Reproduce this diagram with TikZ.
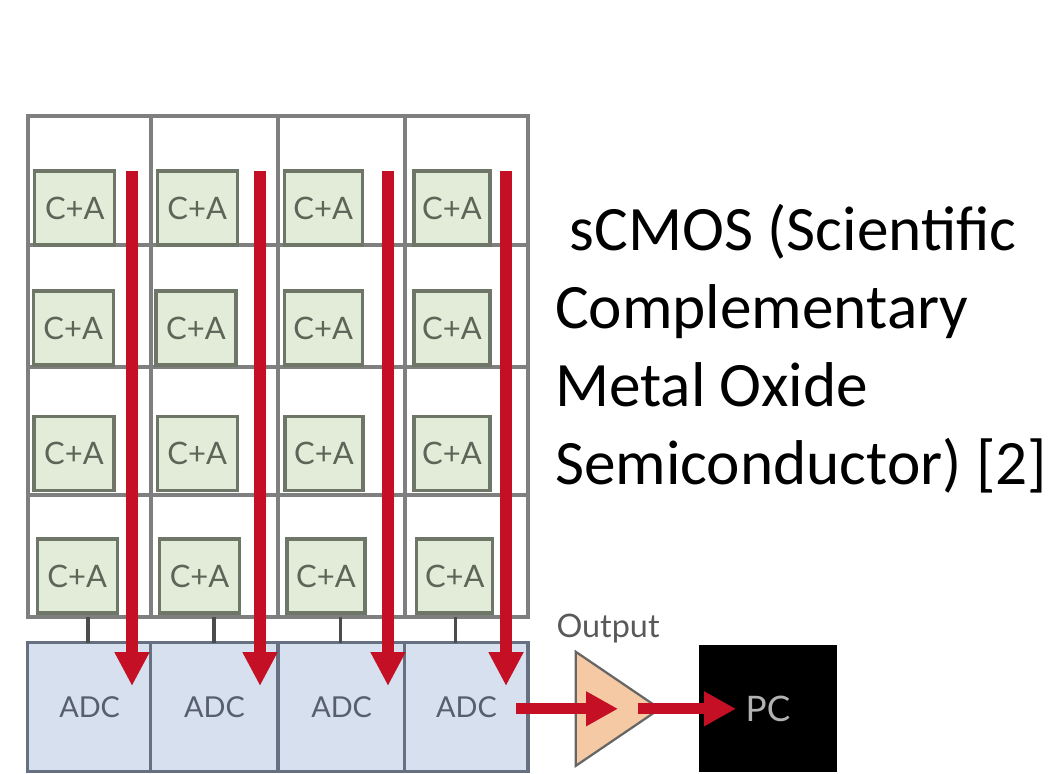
\documentclass[tikz,border=0pt]{standalone}
\usepackage{fontspec}
\setmainfont{Lato}
\newfontfamily\titlefont{Carlito}
\usetikzlibrary{shapes.geometric,arrows.meta}
\definecolor{gridgray}{HTML}{7F7F7F}
\definecolor{boxgreen}{HTML}{E2ECD8}
\definecolor{boxedge}{HTML}{6E7668}
\definecolor{adcblue}{HTML}{D6E0EF}
\definecolor{adcedge}{HTML}{667080}
\definecolor{flowred}{HTML}{C50F24}
\definecolor{ampfill}{HTML}{F5C9A3}
\tikzset{
    cell/.style={draw=gridgray, line width=2.4pt, inner sep=0pt},
    ca/.style={draw=boxedge, fill=boxgreen, line width=2.2pt, text=boxedge!85!black, minimum width=2cm, minimum height=1.85cm, inner sep=0pt, font=\fontsize{22}{25}\selectfont},
    adc/.style={draw=adcedge, fill=adcblue, line width=2.2pt, text=adcedge!85!black, inner sep=0pt, minimum height=3.22cm, font=\fontsize{20.5}{24}\selectfont},
    stub/.style={draw=black!70, line width=2.4pt},
    flow/.style={draw=flowred, line width=8.5pt, -{Triangle[length=0.85cm,width=0.82cm]}},
    flowh/.style={draw=flowred, line width=8pt, -{Triangle[length=0.8cm,width=0.82cm]}}
}
\begin{document}
\begin{tikzpicture}
    \useasboundingbox (0,0) rectangle (26.275,-19.35);

    % pixel grid
    \node[cell, minimum width=3.08cm, minimum height=3.22cm] (cell11) at (2.24,-4.51) {};
    \node[cell, minimum width=3.18cm, minimum height=3.22cm] (cell12) at (5.36,-4.51) {};
    \node[cell, minimum width=3.18cm, minimum height=3.22cm] (cell13) at (8.54,-4.51) {};
    \node[cell, minimum width=3.08cm, minimum height=3.22cm] (cell14) at (11.66,-4.51) {};
    \node[cell, minimum width=3.08cm, minimum height=3.05cm] (cell21) at (2.24,-7.65) {};
    \node[cell, minimum width=3.18cm, minimum height=3.05cm] (cell22) at (5.36,-7.65) {};
    \node[cell, minimum width=3.18cm, minimum height=3.05cm] (cell23) at (8.54,-7.65) {};
    \node[cell, minimum width=3.08cm, minimum height=3.05cm] (cell24) at (11.66,-7.65) {};
    \node[cell, minimum width=3.08cm, minimum height=3.2cm] (cell31) at (2.24,-10.78) {};
    \node[cell, minimum width=3.18cm, minimum height=3.2cm] (cell32) at (5.36,-10.78) {};
    \node[cell, minimum width=3.18cm, minimum height=3.2cm] (cell33) at (8.54,-10.78) {};
    \node[cell, minimum width=3.08cm, minimum height=3.2cm] (cell34) at (11.66,-10.78) {};
    \node[cell, minimum width=3.08cm, minimum height=3.05cm] (cell41) at (2.24,-13.9) {};
    \node[cell, minimum width=3.18cm, minimum height=3.05cm] (cell42) at (5.36,-13.9) {};
    \node[cell, minimum width=3.18cm, minimum height=3.05cm] (cell43) at (8.54,-13.9) {};
    \node[cell, minimum width=3.08cm, minimum height=3.05cm] (cell44) at (11.66,-13.9) {};

    % C+A boxes
    \node[ca] (ca11) at (1.87,-5.2) {C+A};
    \node[ca] (ca12) at (4.93,-5.2) {C+A};
    \node[ca, minimum width=1.95cm] (ca13) at (8.08,-5.2) {C+A};
    \node[ca, minimum width=1.9cm] (ca14) at (11.3,-5.2) {C+A};
    \node[ca] (ca21) at (1.83,-8.2) {C+A};
    \node[ca] (ca22) at (4.9,-8.2) {C+A};
    \node[ca, minimum width=1.95cm] (ca23) at (8.08,-8.2) {C+A};
    \node[ca, minimum width=1.9cm] (ca24) at (11.3,-8.2) {C+A};
    \node[ca] (ca31) at (1.85,-11.33) {C+A};
    \node[ca] (ca32) at (4.93,-11.33) {C+A};
    \node[ca, minimum width=1.95cm] (ca33) at (8.1,-11.33) {C+A};
    \node[ca, minimum width=1.9cm] (ca34) at (11.3,-11.33) {C+A};
    \node[ca] (ca41) at (1.93,-14.4) {C+A};
    \node[ca] (ca42) at (4.99,-14.4) {C+A};
    \node[ca, minimum width=1.95cm] (ca43) at (8.15,-14.4) {C+A};
    \node[ca, minimum width=1.9cm] (ca44) at (11.37,-14.4) {C+A};

    % converters
    \node[adc, minimum width=3.1cm] (adc1) at (2.24,-17.68) {ADC};
    \node[adc, minimum width=3.18cm] (adc2) at (5.36,-17.68) {ADC};
    \node[adc, minimum width=3.18cm] (adc3) at (8.54,-17.68) {ADC};
    \node[adc, minimum width=3.08cm] (adc4) at (11.66,-17.68) {ADC};

    \draw[stub] (2.2,-15.43) -- (2.2,-16.07);
    \draw[stub] (5.35,-15.43) -- (5.35,-16.07);
    \draw[stub] (8.52,-15.43) -- (8.52,-16.07);
    \draw[stub] (11.38,-15.43) -- (11.38,-16.07);

    % output stage
    \node[draw=black!60, fill=ampfill, line width=1.6pt, isosceles triangle, isosceles triangle stretches, minimum width=2.85cm, minimum height=2.1cm, inner sep=0pt] (amp) at (15.15,-17.72) {};
    \node[text=black!65, font=\fontsize{23}{26}\selectfont] (output) at (15.2,-15.72) {Output};
    \node[fill=black, text=black!30, minimum width=3.43cm, minimum height=3.18cm, inner sep=0pt, font=\fontsize{25}{28}\selectfont] (pc) at (19.2,-17.72) {PC};

    % readout
    \coordinate (top1) at (3.3,-4.28);
    \coordinate (top2) at (6.5,-4.28);
    \coordinate (top3) at (9.7,-4.28);
    \coordinate (top4) at (12.65,-4.28);
    \coordinate (tip1) at (3.3,-17.15);
    \coordinate (tip2) at (6.5,-17.15);
    \coordinate (tip3) at (9.7,-17.15);
    \coordinate (tip4) at (12.65,-17.15);
    \draw[flow] (top1) -- (tip1);
    \draw[flow] (top2) -- (tip2);
    \draw[flow] (top3) -- (tip3);
    \draw[flow] (top4) -- (tip4);
    \coordinate (adcout) at (12.9,-17.72);
    \coordinate (ampin) at (15.45,-17.72);
    \coordinate (ampout) at (15.95,-17.72);
    \coordinate (pcin) at (18.4,-17.72);
    \draw[flowh] (adcout) -- (ampin);
    \draw[flowh] (ampout) -- (pcin);

    \node[anchor=north west, align=left, inner sep=0pt, font=\titlefont\fontsize{45}{55.5}\selectfont] (title) at (13.87,-5.1) {\hspace*{0.37cm}sCMOS (Scientific\\Complementary\\Metal Oxide\\Semiconductor) [2]};
\end{tikzpicture}
\end{document}
